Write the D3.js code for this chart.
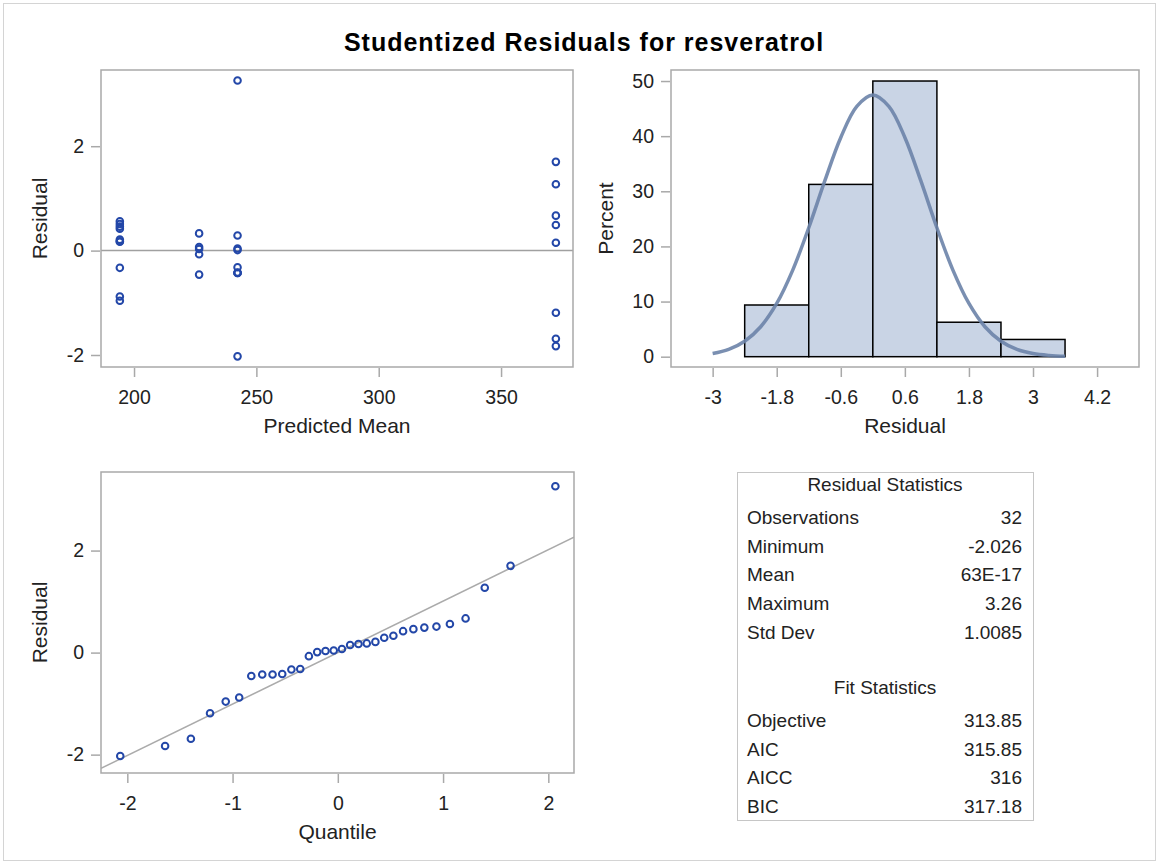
<!DOCTYPE html>
<html>
<head>
<meta charset="utf-8">
<script src="https://cdn.jsdelivr.net/npm/d3@7"></script>
<style>
  body { margin: 0; background: #fff; }
</style>
</head>
<body>
<div id="chart"></div>
<script>
const width = 1159;
const height = 865;
const fontFamily = '"Liberation Sans", Arial, sans-serif';
const frameColor = '#a9a9a9';
const textColor = '#222';
const markerColor = '#2347a8';
const barFill = '#c9d4e5';
const curveColor = '#6b83a9';

const titleText = 'Studentized Residuals for resveratrol';

// one entry per observation: predicted mean and studentized residual
const predictedMeans = [
  194.2, 194.2, 194.2, 194.2, 194.2, 194.2, 194.2, 194.2, 194.2, 194.2,
  226.6, 226.6, 226.6, 226.6, 226.6,
  242.3, 242.3, 242.3, 242.3, 242.3, 242.3, 242.3, 242.3, 242.3,
  372.4, 372.4, 372.4, 372.4, 372.4, 372.4, 372.4, 372.4
];
const residuals = [
  0.56, 0.51, 0.46, 0.42, 0.21, 0.18, 0.17, -0.33, -0.88, -0.96,
  0.33, 0.07, 0.03, -0.07, -0.46,
  3.26, 0.29, 0.04, 0.01, -0.32, -0.42, -0.43, -0.43, -2.026,
  1.70, 1.27, 0.67, 0.49, 0.15, -1.19, -1.69, -1.83
];

// normal quantiles for the 32 sorted residuals
const normalQuantiles = [
  -2.067, -1.641, -1.396, -1.214, -1.065, -0.937, -0.822, -0.718,
  -0.620, -0.528, -0.441, -0.357, -0.275, -0.196, -0.117, -0.039,
  0.039, 0.117, 0.196, 0.275, 0.357, 0.441, 0.528, 0.620,
  0.718, 0.822, 0.937, 1.065, 1.214, 1.396, 1.641, 2.067
];

// histogram bins (percent of observations)
const binLow = [-2.4, -1.2, 0, 1.2, 2.4];
const binHigh = [-1.2, 0, 1.2, 2.4, 3.6];
const binPercent = [9.375, 31.25, 50, 6.25, 3.125];

// normal density curve over the histogram
const curveX = [-3, -2.7, -2.4, -2.1, -1.8, -1.5, -1.2, -0.9, -0.6, -0.3, 0,
  0.3, 0.6, 0.9, 1.2, 1.5, 1.8, 2.1, 2.4, 2.7, 3, 3.3, 3.6];
const curvePercent = [0.57, 1.32, 2.80, 5.43, 9.65, 15.71, 23.39, 31.88, 39.77, 45.41, 47.47,
  45.41, 39.77, 31.88, 23.39, 15.71, 9.65, 5.43, 2.80, 1.32, 0.57, 0.23, 0.08];

// statistics table
const residStatNames = ['Observations', 'Minimum', 'Mean', 'Maximum', 'Std Dev'];
const residStatValues = ['32', '-2.026', '63E-17', '3.26', '1.0085'];
const fitStatNames = ['Objective', 'AIC', 'AICC', 'BIC'];
const fitStatValues = ['313.85', '315.85', '316', '317.18'];

// reference line for the Q-Q plot (mean, std dev)
const qqMean = 0;
const qqStd = 1.0085;

const scatterXTicks = [200, 250, 300, 350];
const residualTicks = [-2, 0, 2];
const histXTicks = [-3, -1.8, -0.6, 0.6, 1.8, 3, 4.2];
const histYTicks = [0, 10, 20, 30, 40, 50];
const qqXTicks = [-2, -1, 0, 1, 2];

const plain = d => String(Math.round(d * 10) / 10);

const svg = d3.select('#chart')
  .append('svg')
  .attr('width', width)
  .attr('height', height)
  .style('font-family', fontFamily);

// outer border
svg.append('rect')
  .attr('x', 3.5).attr('y', 3.5)
  .attr('width', 1152).attr('height', 857)
  .attr('fill', 'none')
  .attr('stroke', '#d4d4d4');

svg.append('text')
  .attr('x', 584)
  .attr('y', 51)
  .attr('text-anchor', 'middle')
  .attr('font-size', 25)
  .attr('font-weight', 'bold')
  .attr('letter-spacing', 1)
  .attr('fill', '#000')
  .text(titleText);

function styleAxis(g) {
  g.attr('font-size', 19.5).attr('font-family', fontFamily);
  g.select('.domain').remove();
  g.selectAll('.tick line').attr('stroke', frameColor).attr('stroke-width', 1.5);
  g.selectAll('.tick text').attr('fill', textColor);
}

function drawFrame(box) {
  svg.append('rect')
    .attr('x', box.left).attr('y', box.top)
    .attr('width', box.right - box.left)
    .attr('height', box.bottom - box.top)
    .attr('fill', 'none')
    .attr('stroke', frameColor)
    .attr('stroke-width', 1.5);
}

function drawAxes(box, x, y, xTicks, yTicks) {
  svg.append('g')
    .attr('transform', `translate(0, ${box.bottom + 1})`)
    .call(d3.axisBottom(x).tickValues(xTicks).tickFormat(plain).tickSize(9).tickPadding(13).tickSizeOuter(0))
    .call(styleAxis);
  svg.append('g')
    .attr('transform', `translate(${box.left - 1}, 0)`)
    .call(d3.axisLeft(y).tickValues(yTicks).tickFormat(plain).tickSize(9).tickPadding(7).tickSizeOuter(0))
    .call(styleAxis);
}

function axisLabels(box, xLabel, yLabel, yLabelX) {
  svg.append('text')
    .attr('x', (box.left + box.right) / 2)
    .attr('y', box.bottom + 66)
    .attr('text-anchor', 'middle')
    .attr('font-size', 21)
    .attr('fill', textColor)
    .text(xLabel);
  svg.append('text')
    .attr('transform', `translate(${yLabelX}, ${(box.top + box.bottom) / 2}) rotate(-90)`)
    .attr('text-anchor', 'middle')
    .attr('dy', '0.35em')
    .attr('font-size', 21)
    .attr('fill', textColor)
    .text(yLabel);
}

function clipFor(id, box) {
  svg.append('clipPath').attr('id', id)
    .append('rect')
    .attr('x', box.left).attr('y', box.top)
    .attr('width', box.right - box.left)
    .attr('height', box.bottom - box.top);
  return `url(#${id})`;
}

// ---- residual vs predicted mean ----
const scatterBox = { left: 101, top: 70, right: 573, bottom: 367 };
const xScatter = d3.scaleLinear().domain([186.5, 379.4]).range([scatterBox.left, scatterBox.right]);
const yScatter = d3.scaleLinear().domain([-2.23, 3.46]).range([scatterBox.bottom, scatterBox.top]);

svg.append('line')
  .attr('x1', scatterBox.left).attr('x2', scatterBox.right)
  .attr('y1', yScatter(0)).attr('y2', yScatter(0))
  .attr('stroke', '#a0a0a0')
  .attr('stroke-width', 1.5);

svg.append('g')
  .selectAll('circle')
  .data(residuals)
  .join('circle')
  .attr('cx', (d, i) => xScatter(predictedMeans[i]))
  .attr('cy', d => yScatter(d))
  .attr('r', 3.3)
  .attr('fill', 'none')
  .attr('stroke', markerColor)
  .attr('stroke-width', 2);

drawFrame(scatterBox);
drawAxes(scatterBox, xScatter, yScatter, scatterXTicks, residualTicks);
axisLabels(scatterBox, 'Predicted Mean', 'Residual', 40);

// ---- histogram ----
const histBox = { left: 671, top: 70, right: 1139, bottom: 367 };
const xHist = d3.scaleLinear().domain([-3.78, 4.985]).range([histBox.left, histBox.right]);
const yHist = d3.scaleLinear().domain([-1.87, 52.0]).range([histBox.bottom, histBox.top]);

svg.append('g')
  .selectAll('rect')
  .data(binPercent)
  .join('rect')
  .attr('x', (d, i) => xHist(binLow[i]))
  .attr('width', (d, i) => xHist(binHigh[i]) - xHist(binLow[i]))
  .attr('y', d => yHist(d))
  .attr('height', d => yHist(0) - yHist(d))
  .attr('fill', barFill)
  .attr('stroke', '#000')
  .attr('stroke-width', 1.5);

const normalLine = d3.line()
  .x((d, i) => xHist(curveX[i]))
  .y(d => yHist(d))
  .curve(d3.curveCatmullRom);

svg.append('path')
  .datum(curvePercent)
  .attr('d', normalLine)
  .attr('fill', 'none')
  .attr('stroke', curveColor)
  .attr('stroke-width', 3.5)
  .attr('stroke-opacity', 0.9);

drawFrame(histBox);
drawAxes(histBox, xHist, yHist, histXTicks, histYTicks);
axisLabels(histBox, 'Residual', 'Percent', 606);

// ---- Q-Q plot ----
const qqBox = { left: 101, top: 472, right: 574, bottom: 773 };
const xQQ = d3.scaleLinear().domain([-2.25, 2.244]).range([qqBox.left, qqBox.right]);
const yQQ = d3.scaleLinear().domain([-2.36, 3.54]).range([qqBox.bottom, qqBox.top]);
const sortedResiduals = d3.sort(residuals, d3.ascending);

const qqEnds = xQQ.domain();
svg.append('line')
  .attr('clip-path', clipFor('qqclip', qqBox))
  .attr('x1', xQQ(qqEnds[0])).attr('y1', yQQ(qqMean + qqStd * qqEnds[0]))
  .attr('x2', xQQ(qqEnds[1])).attr('y2', yQQ(qqMean + qqStd * qqEnds[1]))
  .attr('stroke', '#ababab')
  .attr('stroke-width', 1.5);

svg.append('g')
  .selectAll('circle')
  .data(sortedResiduals)
  .join('circle')
  .attr('cx', (d, i) => xQQ(normalQuantiles[i]))
  .attr('cy', d => yQQ(d))
  .attr('r', 3.3)
  .attr('fill', 'none')
  .attr('stroke', markerColor)
  .attr('stroke-width', 2);

drawFrame(qqBox);
drawAxes(qqBox, xQQ, yQQ, qqXTicks, residualTicks);
axisLabels(qqBox, 'Quantile', 'Residual', 40);

// ---- statistics table ----
const tableBox = { left: 737, top: 472, right: 1033, bottom: 820 };
const rowHeight = 28.7;
svg.append('rect')
  .attr('x', tableBox.left + 0.5).attr('y', tableBox.top + 0.5)
  .attr('width', tableBox.right - tableBox.left)
  .attr('height', tableBox.bottom - tableBox.top)
  .attr('fill', 'none')
  .attr('stroke', '#c6c6c6');

const tableG = svg.append('g')
  .attr('font-size', 19)
  .attr('fill', textColor);

function tableSection(header, names, values, headerY) {
  tableG.append('text')
    .attr('x', (tableBox.left + tableBox.right) / 2)
    .attr('y', headerY)
    .attr('text-anchor', 'middle')
    .text(header);
  names.forEach((name, i) => {
    const y = headerY + 33 + i * rowHeight;
    tableG.append('text').attr('x', tableBox.left + 10).attr('y', y).text(name);
    tableG.append('text').attr('x', tableBox.right - 11).attr('y', y)
      .attr('text-anchor', 'end').text(values[i]);
  });
}

tableSection('Residual Statistics', residStatNames, residStatValues, 491);
tableSection('Fit Statistics', fitStatNames, fitStatValues, 694);
</script>
</body>
</html>
